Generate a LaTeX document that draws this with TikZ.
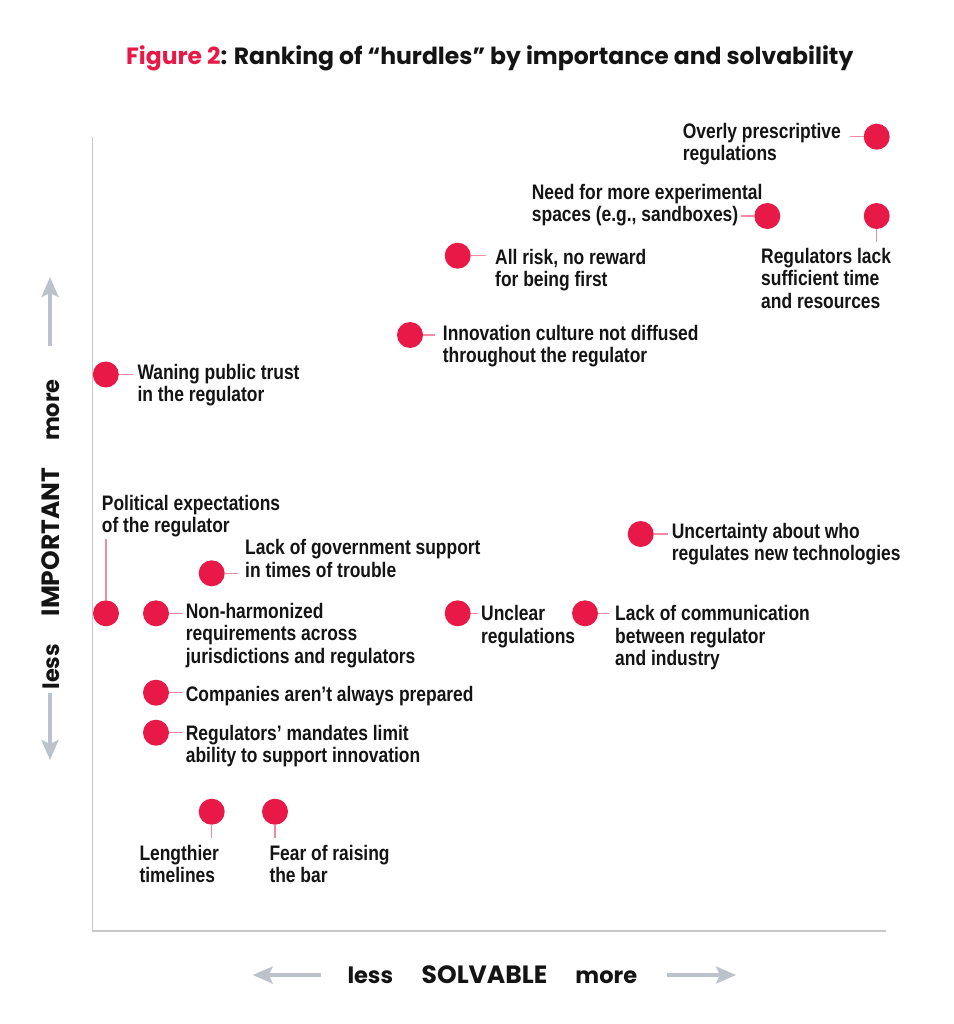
\documentclass[tikz,border=0pt]{standalone}
\usepackage{fontspec}
\setmainfont{Poppins}
\newfontfamily\labelfont[FakeStretch=0.83]{Liberation Sans}
\usetikzlibrary{arrows.meta}
\definecolor{dotred}{RGB}{232,25,70}
\definecolor{connpink}{RGB}{243,140,162}
\definecolor{axisgray}{RGB}{200,200,200}
\definecolor{arrowgray}{RGB}{188,194,204}
\definecolor{ink}{RGB}{20,20,20}
\tikzset{
  dot/.style={circle,fill=dotred,minimum size=26pt,inner sep=0pt},
  % anchor base = baseline of the LAST line of a multi-line label
  lbl/.style={anchor=base west,align=left,inner sep=0pt,text=ink,
    font=\labelfont\bfseries\fontsize{21}{22.6}\selectfont},
  conn/.style={draw=connpink,line width=1.5pt},
  axisline/.style={draw=axisgray,line width=1.7pt},
  dirarrow/.style={draw=arrowgray,line width=3.3pt,
    -{Stealth[length=20pt,width=17pt,inset=4pt]}},
  axlbl/.style={anchor=base,inner sep=0pt,text=ink,
    font=\bfseries\fontsize{22.5}{26}\selectfont},
  axcap/.style={axlbl,font=\bfseries\fontsize{25}{28}\selectfont},
}
\begin{document}
\begin{tikzpicture}[x=1pt,y=-1pt]
\useasboundingbox (0,0) rectangle (953,1024);
\fill[white] (0,0) rectangle (953,1024);

% title
\node[anchor=base,inner sep=0pt,text=ink,font=\bfseries\fontsize{23.5}{26}\selectfont] (title) at (489.7,65)
  {\textcolor{dotred}{Figure 2}: Ranking of “hurdles” by importance and solvability};

% axes
\coordinate (origin) at (92.5,931);
\coordinate (ytop) at (92.5,137);
\coordinate (xend) at (886,931);
\draw[axisline] (ytop) -- (origin) -- (xend);

% axis direction arrows
\coordinate (xl0) at (320.7,975); \coordinate (xl1) at (252.7,975);
\coordinate (xr0) at (667,975);   \coordinate (xr1) at (736,975);
\coordinate (yu0) at (50,346);    \coordinate (yu1) at (50,277);
\coordinate (yd0) at (50,693);    \coordinate (yd1) at (50,760);
\draw[dirarrow] (xl0) -- (xl1);
\draw[dirarrow] (xr0) -- (xr1);
\draw[dirarrow] (yu0) -- (yu1);
\draw[dirarrow] (yd0) -- (yd1);

% axis labels
\node[axlbl] (xless) at (370.3,983.3) {less};
\node[axcap] (xsolv) at (484.5,983.3) {SOLVABLE};
\node[axlbl] (xmore) at (606.3,983.3) {more};
\node[axlbl,rotate=90] (yless) at (59.5,666.7) {less};
\node[axcap,rotate=90] (yimp) at (59.5,542) {IMPORTANT};
\node[axlbl,rotate=90] (ymore) at (59.5,410) {more};

% 1 Overly prescriptive
\node[dot] (d1) at (876.7,136.7) {};
\node[lbl] (t1) at (682.7,160.9) {Overly prescriptive\\regulations};
\coordinate (c1) at (850,136.7);
\draw[conn] (d1.west) -- (c1);

% 2 Need for more experimental spaces
\node[dot] (d2) at (767.3,216) {};
\node[lbl] (t2) at (531.7,221.9) {Need for more experimental\\spaces (e.g., sandboxes)};
\coordinate (c2) at (741,216);
\draw[conn] (d2.west) -- (c2);

% 3 Regulators lack
\node[dot] (d3) at (876.7,216) {};
\node[lbl] (t3) at (761,308.5) {Regulators lack\\sufficient time\\and resources};
\coordinate (c3) at (876.7,241.7);
\draw[conn] (d3.south) -- (c3);

% 4 All risk
\node[dot] (d4) at (457.7,255.7) {};
\node[lbl] (t4) at (495,286.6) {All risk, no reward\\for being first};
\coordinate (c4) at (485.5,255.7);
\draw[conn] (d4.east) -- (c4);

% 5 Innovation culture
\node[dot] (d5) at (410,335) {};
\node[lbl] (t5) at (442.7,362.6) {Innovation culture not diffused\\throughout the regulator};
\coordinate (c5) at (435,335);
\draw[conn] (d5.east) -- (c5);

% 6 Waning public trust
\node[dot] (d6) at (105.8,374.5) {};
\node[lbl] (t6) at (137.3,401.9) {Waning public trust\\in the regulator};
\coordinate (c6) at (133.3,374.5);
\draw[conn] (d6.east) -- (c6);

% 7 Political expectations
\node[dot] (d7) at (106,613.3) {};
\node[lbl] (t7) at (101.7,532.6) {Political expectations\\of the regulator};
\coordinate (c7) at (106,539);
\draw[conn] (d7.north) -- (c7);

% 8 Lack of government support
\node[dot] (d8) at (211.7,573.3) {};
\node[lbl] (t8) at (245,577.1) {Lack of government support\\in times of trouble};
\coordinate (c8) at (238.3,573.3);
\draw[conn] (d8.east) -- (c8);

% 9 Non-harmonized
\node[dot] (d9) at (156,613.3) {};
\node[lbl] (t9) at (185.7,663.5) {Non-harmonized\\requirements across\\jurisdictions and regulators};
\coordinate (c9) at (182.7,613.3);
\draw[conn] (d9.east) -- (c9);

% 10 Unclear regulations
\node[dot] (d10) at (457.7,613.3) {};
\node[lbl] (t10) at (481,643.3) {Unclear\\regulations};
\coordinate (c10) at (478,613.3);
\draw[conn] (d10.east) -- (c10);

% 11 Lack of communication
\node[dot] (d11) at (585,613.3) {};
\node[lbl] (t11) at (615,665.9) {Lack of communication\\between regulator\\and industry};
\coordinate (c11) at (609.3,613.3);
\draw[conn] (d11.east) -- (c11);

% 12 Uncertainty
\node[dot] (d12) at (640.7,534) {};
\node[lbl] (t12) at (671.7,560.9) {Uncertainty about who\\regulates new technologies};
\coordinate (c12) at (668.3,534);
\draw[conn] (d12.east) -- (c12);

% 13 Companies
\node[dot] (d13) at (156,692.7) {};
\node[lbl] (t13) at (185.7,701.7) {Companies aren’t always prepared};
\coordinate (c13) at (182.7,692.7);
\draw[conn] (d13.east) -- (c13);

% 14 Regulators' mandates
\node[dot] (d14) at (156,732.7) {};
\node[lbl] (t14) at (185.7,762.6) {Regulators’ mandates limit\\ability to support innovation};
\coordinate (c14) at (182.7,732.7);
\draw[conn] (d14.east) -- (c14);

% 15 Lengthier timelines
\node[dot] (d15) at (211.7,811.7) {};
\node[lbl] (t15) at (139.3,882.6) {Lengthier\\timelines};
\coordinate (c15) at (211.7,838.3);
\draw[conn] (d15.south) -- (c15);

% 16 Fear of raising the bar
\node[dot] (d16) at (275,811.7) {};
\node[lbl] (t16) at (269.3,882.6) {Fear of raising\\the bar};
\coordinate (c16) at (275,838.3);
\draw[conn] (d16.south) -- (c16);
\end{tikzpicture}
\end{document}
